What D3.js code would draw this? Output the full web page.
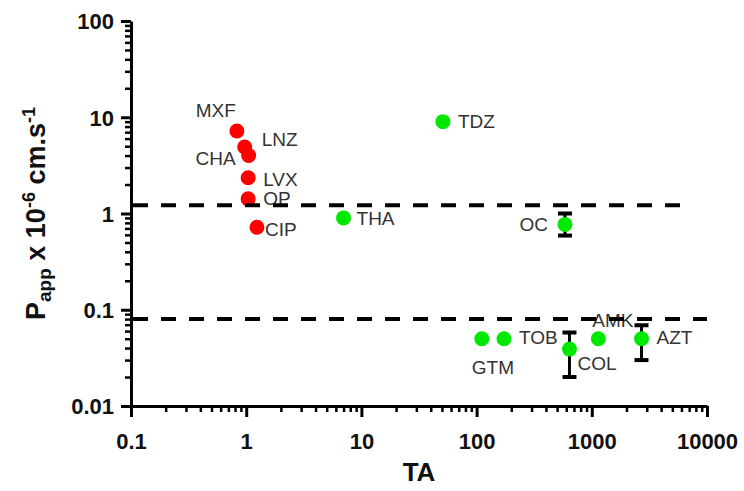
<!DOCTYPE html>
<html>
<head>
<meta charset="utf-8">
<script src="https://cdn.jsdelivr.net/npm/d3@7"></script>
<style>
  html, body { margin: 0; padding: 0; background: #fff; }
  svg { display: block; font-family: "Liberation Sans", Arial, sans-serif; }
</style>
</head>
<body>
<svg id="chart" width="744" height="491"></svg>
<script>
// ---- data ----
const names   = ["MXF", "LNZ", "CHA", "LVX", "OP", "CIP", "TDZ", "THA", "OC", "GTM", "TOB", "COL", "AMK", "AZT"];
const taValues   = [0.83, 0.97, 1.05, 1.04, 1.04, 1.24, 51, 7.0, 585, 111, 173, 640, 1140, 2700];
const pappValues = [7.2, 4.9, 4.0, 2.35, 1.42, 0.72, 9.0, 0.9, 0.77, 0.05, 0.05, 0.039, 0.05, 0.05];
const errLow     = [null, null, null, null, null, null, null, null, 0.59, null, null, 0.020, null, 0.030];
const errHigh    = [null, null, null, null, null, null, null, null, 1.0, null, null, 0.058, null, 0.069];
const groups     = ["red", "red", "red", "red", "red", "red", "green", "green", "green", "green", "green", "green", "green", "green"];
const thresholdValues = [1.22, 0.08];
const thresholdEnds   = [7400, 10000];
const xTickLabels = ["0.1", "1", "10", "100", "1000", "10000"];
const yTickLabels = ["0.01", "0.1", "1", "10", "100"];

// label placement (offset from point, px) - layout only
const labelDx     = [-1, 17, -13, 15, 15, 8, 15, 13, -17, -10, 15, 8, -6, 15];
const labelDy     = [-14, -1, 9, 8, 6, 9, 6, 7, 7, 35, 5, 21, -12, 5];
const labelAnchor = ["end", "start", "end", "start", "start", "start", "start", "start", "end", "start", "start", "start", "start", "start"];

const colors = { red: "#ff0000", green: "#00e800" };

const svg = d3.select("#chart");
const x = d3.scaleLog().domain([0.1, 10000]).range([131, 707]);
const y = d3.scaleLog().domain([0.01, 100]).range([406, 21]);

const xMajor = xTickLabels.map(Number);
const yMajor = yTickLabels.map(Number);
function minors(majors) {
  const out = [];
  for (let i = 0; i < majors.length - 1; i++)
    for (let k = 2; k <= 9; k++) out.push(majors[i] * k);
  return out;
}

// minor ticks
const gxMin = svg.append("g").attr("transform", `translate(0,${y.range()[0]})`)
  .call(d3.axisBottom(x).tickValues(minors(xMajor)).tickSize(6).tickFormat(""));
const gyMin = svg.append("g").attr("transform", `translate(${x.range()[0]},0)`)
  .call(d3.axisLeft(y).tickValues(minors(yMajor)).tickSize(6).tickFormat(""));
[gxMin, gyMin].forEach(g => {
  g.select(".domain").remove();
  g.selectAll("line").attr("stroke", "#000").attr("stroke-width", 2.5);
});

// major axes
const gx = svg.append("g").attr("transform", `translate(0,${y.range()[0]})`)
  .call(d3.axisBottom(x).tickValues(xMajor).tickSize(11).tickSizeOuter(0).tickPadding(16)
    .tickFormat((d, i) => xTickLabels[i]));
const gy = svg.append("g").attr("transform", `translate(${x.range()[0]},0)`)
  .call(d3.axisLeft(y).tickValues(yMajor).tickSize(10).tickSizeOuter(0).tickPadding(7)
    .tickFormat((d, i) => yTickLabels[i]));
[gx, gy].forEach(g => {
  g.select(".domain").attr("stroke", "#000").attr("stroke-width", 3);
  g.selectAll("line").attr("stroke", "#000").attr("stroke-width", 3);
  g.selectAll("text").attr("fill", "#111").attr("font-size", 22).attr("font-weight", "bold")
    .attr("font-family", "Liberation Sans, Arial, sans-serif");
});
gy.selectAll("text").attr("dy", "0.36em");

// axis titles
svg.append("text").attr("x", (x.range()[0] + x.range()[1]) / 2).attr("y", 481)
  .attr("text-anchor", "middle").attr("font-size", 26).attr("font-weight", "bold").attr("fill", "#111")
  .text("TA");

const yt = svg.append("text")
  .attr("transform", `translate(45,${(y.range()[0] + y.range()[1]) / 2}) rotate(-90)`)
  .attr("text-anchor", "middle").attr("font-size", 27).attr("font-weight", "bold").attr("fill", "#111");
yt.append("tspan").text("P");
yt.append("tspan").attr("font-size", 19).attr("baseline-shift", "-30%").text("app");
yt.append("tspan").text(" x 10");
yt.append("tspan").attr("font-size", 18).attr("baseline-shift", "55%").text("-6");
yt.append("tspan").text(" cm.s");
yt.append("tspan").attr("font-size", 18).attr("baseline-shift", "55%").text("-1");

// data rows
const rows = names.map((n, i) => ({
  name: n, ta: taValues[i], p: pappValues[i], lo: errLow[i], hi: errHigh[i], g: groups[i],
  dx: labelDx[i], dy: labelDy[i], anchor: labelAnchor[i]
}));

// error bars
const eb = svg.append("g").selectAll("g").data(rows.filter(d => d.lo != null)).join("g");
eb.append("line").attr("x1", d => x(d.ta)).attr("x2", d => x(d.ta))
  .attr("y1", d => y(d.hi)).attr("y2", d => y(d.lo)).attr("stroke", "#000").attr("stroke-width", 3);
eb.selectAll(".cap").data(d => [[d.ta, d.hi], [d.ta, d.lo]]).join("line").attr("class", "cap")
  .attr("x1", d => x(d[0]) - 7).attr("x2", d => x(d[0]) + 7)
  .attr("y1", d => y(d[1])).attr("y2", d => y(d[1])).attr("stroke", "#000").attr("stroke-width", 4);

// points
svg.append("g").selectAll("circle").data(rows).join("circle")
  .attr("cx", d => x(d.ta)).attr("cy", d => y(d.p)).attr("r", 7.5)
  .attr("fill", d => colors[d.g]);

// labels
svg.append("g").selectAll("text").data(rows).join("text")
  .attr("x", d => x(d.ta) + d.dx).attr("y", d => y(d.p) + d.dy)
  .attr("text-anchor", d => d.anchor).attr("font-size", 19).attr("fill", "#333")
  .text(d => d.name);

// threshold lines
svg.append("g").selectAll("line").data(thresholdValues).join("line")
  .attr("x1", x(0.1) + 2).attr("x2", (d, i) => x(thresholdEnds[i]))
  .attr("y1", d => y(d)).attr("y2", d => y(d))
  .attr("stroke", "#000").attr("stroke-width", 4).attr("stroke-dasharray", "15,13");
</script>
</body>
</html>
